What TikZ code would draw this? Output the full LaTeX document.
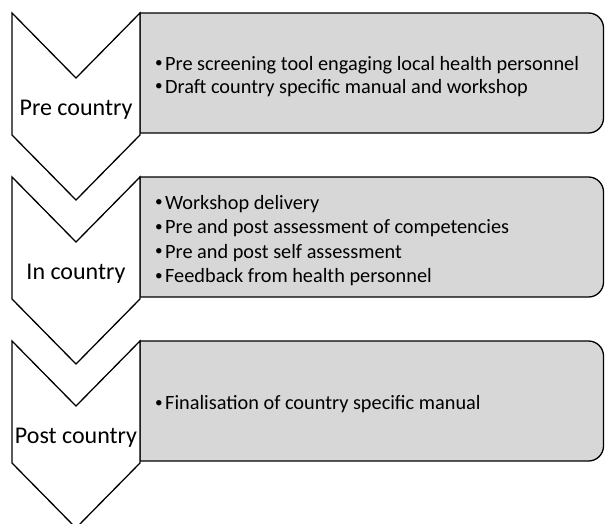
\documentclass[tikz,border=0pt]{standalone}
\usepackage{fontspec}
\setmainfont{Carlito}
\definecolor{panelgray}{RGB}{215,215,215}
% small bullet followed by a fixed indent
\newcommand\bul{\makebox[10pt][l]{\raisebox{0.12em}{\scalebox{0.75}{\textbullet}}}}
\begin{document}
\begin{tikzpicture}[x=1pt,y=-1pt,
  chev/.style={draw=black, fill=white, line width=1.3pt, line join=miter},
  panel/.style={draw=black, fill=panelgray, line width=1.3pt},
  stage/.style={font=\fontsize{24}{28}\selectfont, anchor=base, inner sep=0pt},
  items/.style={anchor=west, align=left, inner sep=0pt}]
\useasboundingbox (0,0) rectangle (605,523);

% one phase: gray text panel and a downward chevron at its left
\newcommand\phase[5]{%
  \draw[panel] (140,#1) [rounded corners=15pt] -- (603.5,#1) -- (603.5,{#1+120}) [sharp corners] -- (140,{#1+120}) -- cycle;
  \draw[chev] (12,#1) -- (76,{#1+65}) -- (140,#1) -- (140,{#1+122}) -- (76,{#1+187}) -- (12,{#1+122}) -- cycle;
  \node[stage] (#2) at (76,{#1+102}) {#3};
  \node[items, font=\fontsize{20.3}{#5}\selectfont] (#2-items) at (155,{#1+63.5}) {#4};
}

\phase{13}{pre}{Pre country}{%
  \bul Pre screening tool engaging local health personnel\\
  \bul Draft country specific manual and workshop}{23}
\phase{177}{in}{In country}{%
  \bul Workshop delivery\\
  \bul Pre and post assessment of competencies\\
  \bul Pre and post self assessment\\
  \bul Feedback from health personnel}{24.6}
\phase{341}{post}{Post country}{%
  \bul Finalisation of country specific manual}{24}
\end{tikzpicture}
\end{document}
